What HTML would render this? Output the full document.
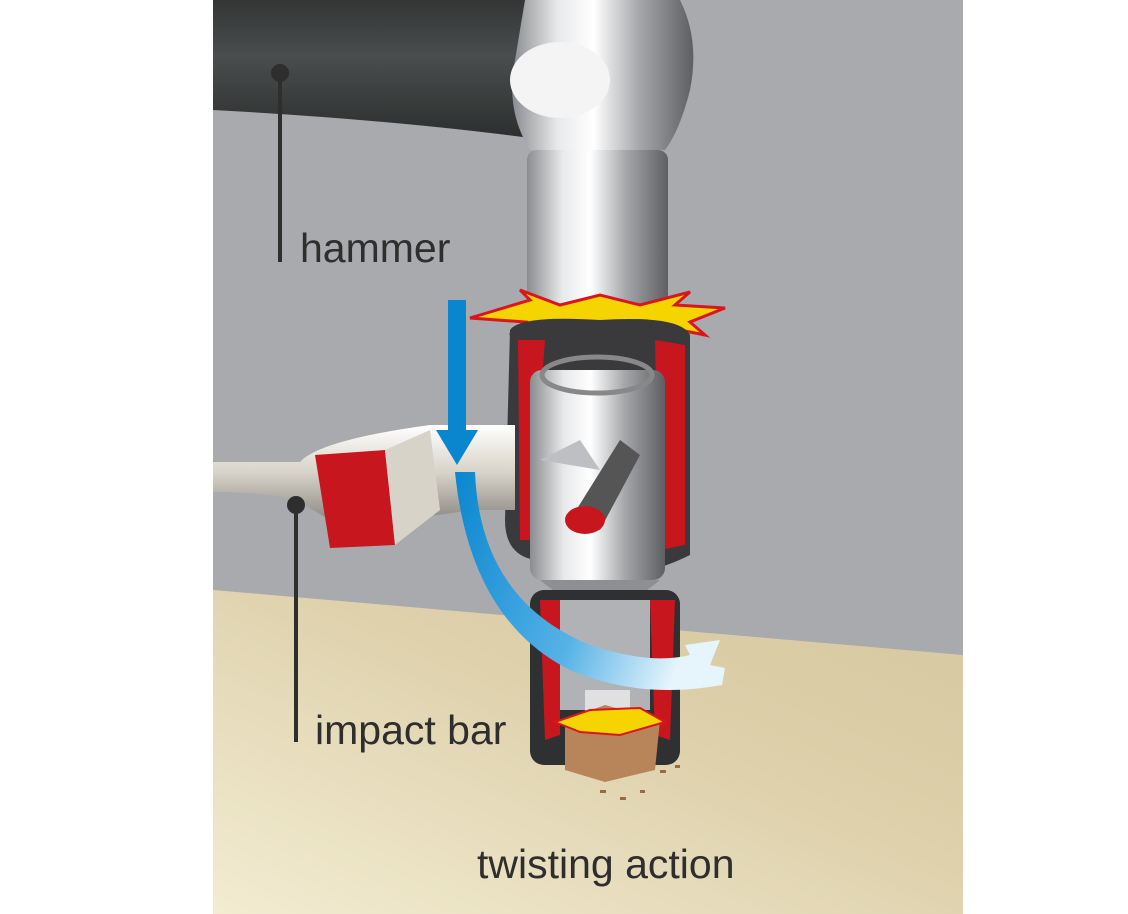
<!DOCTYPE html>
<html><head><meta charset="utf-8"><style>
html,body{margin:0;padding:0;background:#fff;}
svg{display:block}
text{font-family:"Liberation Sans",sans-serif;fill:#2e2e2e}
</style></head><body>
<svg width="1128" height="914" viewBox="0 0 1128 914">
<defs>
<linearGradient id="floor" x1="0" y1="1" x2="1" y2="0">
<stop offset="0" stop-color="#f3ecd2"/><stop offset="0.6" stop-color="#ddd0aa"/><stop offset="1" stop-color="#d6c8a0"/></linearGradient>
<linearGradient id="chrome" x1="0" x2="1">
<stop offset="0" stop-color="#8a8c8f"/><stop offset="0.25" stop-color="#e8e9ea"/><stop offset="0.45" stop-color="#ffffff"/><stop offset="0.7" stop-color="#a5a7aa"/><stop offset="1" stop-color="#5d5f62"/></linearGradient>
<linearGradient id="handle" x1="0" y1="0" x2="0" y2="1">
<stop offset="0" stop-color="#343636"/><stop offset="0.4" stop-color="#4a4d4d"/><stop offset="1" stop-color="#2c2e2e"/></linearGradient>
<linearGradient id="bar" x1="0" y1="0" x2="0" y2="1">
<stop offset="0" stop-color="#ffffff"/><stop offset="0.5" stop-color="#d8d3c8"/><stop offset="1" stop-color="#8c8a85"/></linearGradient>
<linearGradient id="blue" x1="0" y1="0" x2="1" y2="0.3">
<stop offset="0" stop-color="#0a86cf"/><stop offset="0.6" stop-color="#55b2e6"/><stop offset="1" stop-color="#e6f4fb"/></linearGradient>
</defs>
<rect x="213" y="0" width="750" height="914" fill="#a9aaad"/>
<polygon points="213,590 963,655 963,914 213,914" fill="url(#floor)"/>
<path d="M213,0 L545,0 L545,140 Q400,120 213,110 Z" fill="url(#handle)"/>
<path d="M525,0 L680,0 Q700,40 690,90 Q680,130 665,150 L530,150 Q505,110 515,60 Z" fill="url(#chrome)"/>
<ellipse cx="560" cy="80" rx="50" ry="38" fill="#f4f4f4"/>
<rect x="527" y="150" width="141" height="155" rx="10" fill="url(#chrome)"/>
<polygon points="470,318 530,300 520,290 560,305 600,295 640,305 690,292 675,305 725,308 690,322 705,335 640,322 600,330 560,322 510,335 525,322" fill="#f6d400" stroke="#d9161f" stroke-width="3"/>
<path d="M510,330 Q520,315 600,320 Q680,315 690,335 L690,555 Q640,580 590,575 L535,560 Q505,555 505,520 Z" fill="#3a3a3c"/>
<path d="M518,340 L545,340 L535,470 L540,540 L520,540 Z" fill="#c8161f"/>
<path d="M655,340 L685,345 L685,545 L660,550 Z" fill="#c8161f"/>
<rect x="530" y="370" width="135" height="210" rx="12" fill="url(#chrome)"/>
<ellipse cx="597" cy="375" rx="55" ry="18" fill="none" stroke="#888" stroke-width="5"/>
<path d="M540,460 L580,440 L600,470 Z" fill="#bdbfc2"/>
<path d="M570,520 L620,440 L640,455 L600,530 Z" fill="#555"/>
<ellipse cx="585" cy="520" rx="20" ry="14" fill="#c8161f"/>
<path d="M540,580 L660,580 L635,600 L565,600 Z" fill="#8d8f92"/>
<rect x="530" y="590" width="150" height="175" rx="14" fill="#2f3032"/>
<path d="M540,600 L560,600 L560,735 L545,740 Z" fill="#c8161f"/>
<path d="M650,600 L675,600 L670,740 L655,735 Z" fill="#c8161f"/>
<rect x="560" y="600" width="90" height="110" fill="#b0b2b5"/>
<rect x="585" y="690" width="45" height="30" fill="#e0e0e0"/>
<polygon points="565,720 605,705 660,720 655,770 605,782 565,770" fill="#b8845a"/>
<polygon points="555,722 590,710 640,708 665,722 620,735 580,732" fill="#f6d400" stroke="#d9161f" stroke-width="2"/>
<g fill="#9b6a45"><rect x="600" y="790" width="6" height="3"/><rect x="620" y="797" width="6" height="3"/><rect x="660" y="770" width="6" height="3"/><rect x="640" y="790" width="5" height="3"/><rect x="675" y="765" width="5" height="3"/></g>
<path d="M213,462 L300,462 Q320,440 430,425 L515,425 L515,510 L470,510 Q420,520 330,520 L305,505 Q280,492 213,492 Z" fill="url(#bar)"/>
<path d="M315,455 L385,450 L395,545 L330,548 Z" fill="#c8161f"/>
<path d="M385,450 L430,430 L440,510 L395,545 Z" fill="#d8d3c8"/>
<path d="M448,300 L466,300 L466,430 L478,430 L457,465 L436,430 L448,430 Z" fill="#0a86cf"/>
<path d="M455,472 L475,472 Q480,600 590,645 Q650,665 690,655 L685,645 L720,640 L710,665 L725,668 L722,685 Q640,700 570,670 Q470,620 455,472 Z" fill="url(#blue)"/>
<circle cx="280" cy="73" r="9" fill="#2e2e2e"/>
<line x1="280" y1="73" x2="280" y2="262" stroke="#2e2e2e" stroke-width="4"/>
<text x="300" y="262" font-size="41">hammer</text>
<circle cx="296" cy="505" r="9" fill="#2e2e2e"/>
<line x1="296" y1="505" x2="296" y2="742" stroke="#2e2e2e" stroke-width="4"/>
<text x="315" y="744" font-size="41">impact bar</text>
<text x="477" y="878" font-size="41">twisting action</text>
</svg>
</body></html>
